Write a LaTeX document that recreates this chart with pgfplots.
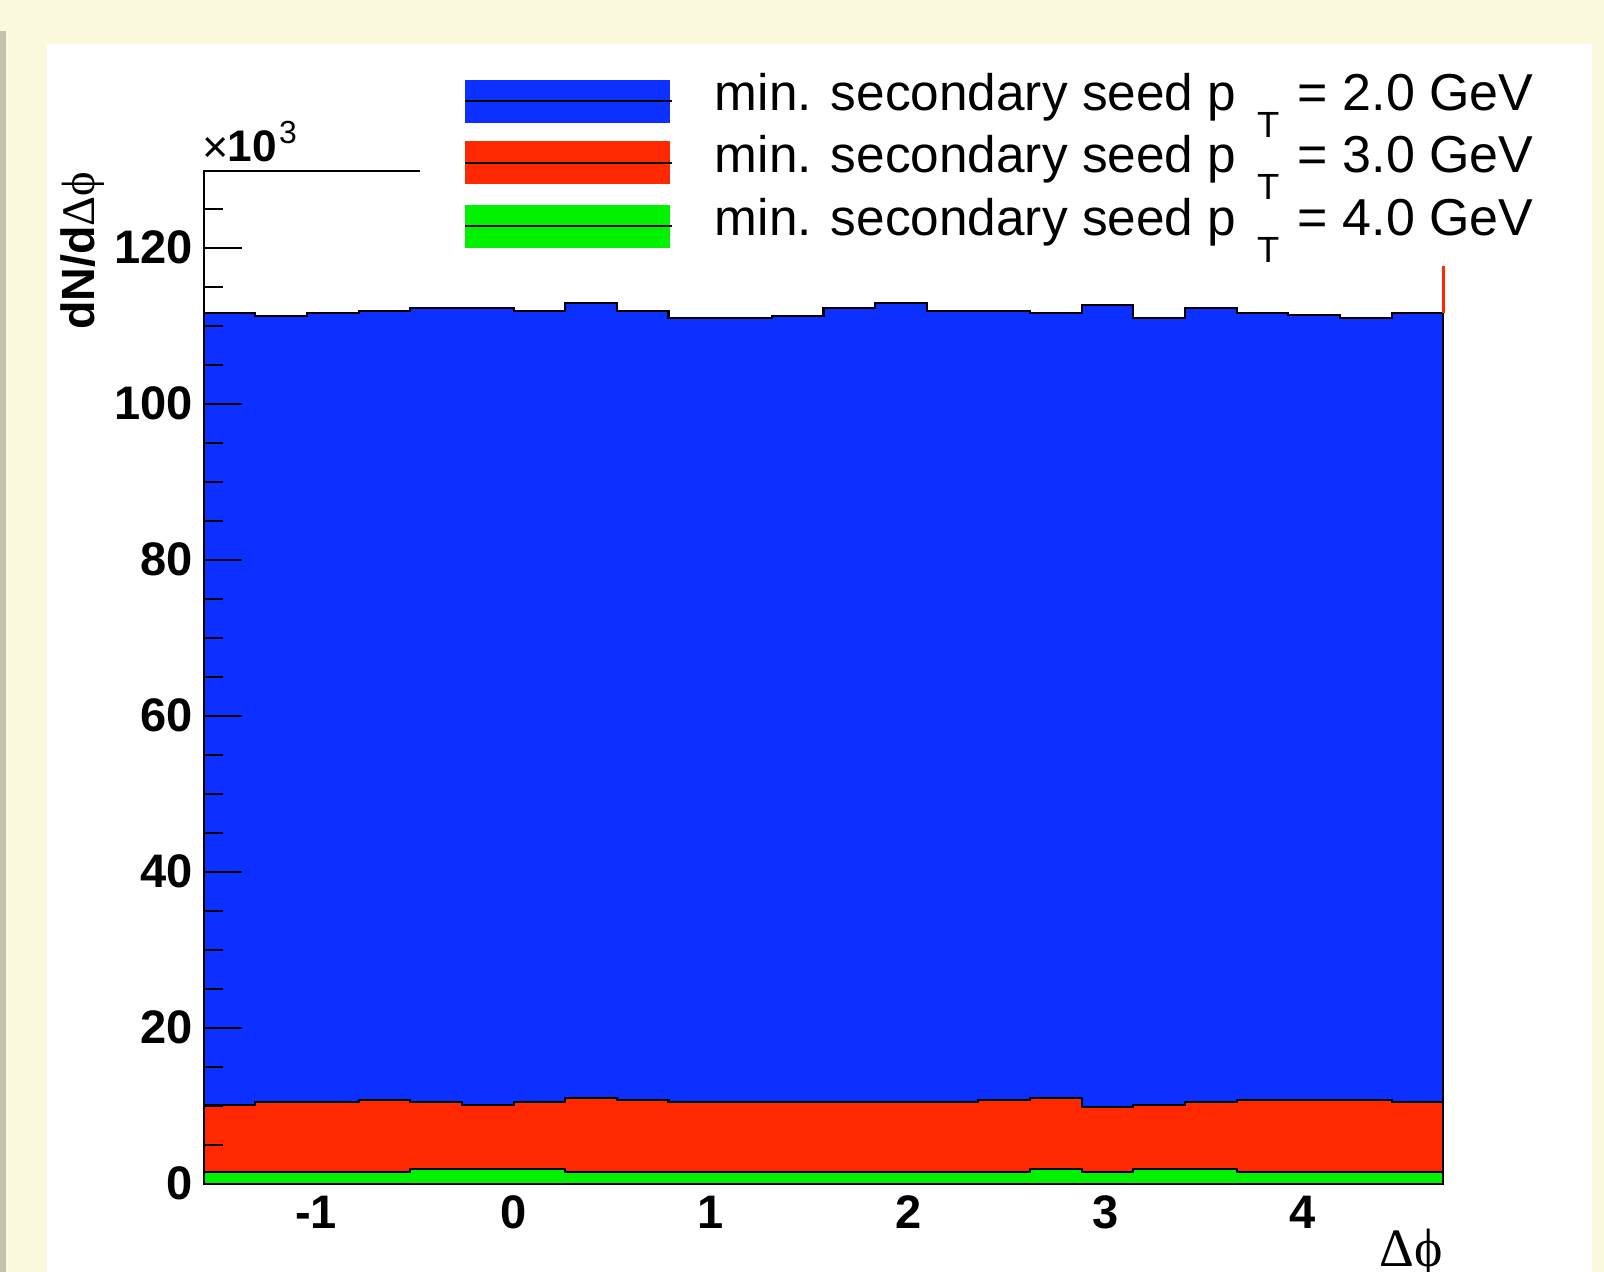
\documentclass[border=0pt]{standalone}
\usepackage{pgfplots}
\pgfplotsset{compat=1.18}
\usepackage{pgfplotstable}
\usepackage{fontspec}
\setmainfont{Liberation Sans}
\newfontfamily\symfont{Liberation Serif}

\definecolor{canvasbg}{RGB}{252,250,222}
\definecolor{framegray}{RGB}{196,194,170}
\definecolor{histblue}{RGB}{12,48,255}
\definecolor{histred}{RGB}{255,40,0}
\definecolor{histgreen}{RGB}{0,242,0}

% dN/dDeltaphi per bin (x = left bin edge), in units of 10^3;
% the last row repeats the final bin so that it is closed at 3pi/2
\pgfplotstableread{
x       pt2     pt3    pt4
-1.5708 111.67  10.13  1.50
-1.3090 111.25  10.42  1.50
-1.0472 111.67  10.42  1.50
-0.7854 111.88  10.75  1.50
-0.5236 112.25  10.42  1.85
-0.2618 112.25  10.13  1.85
 0.0000 111.92  10.42  1.85
 0.2618 112.88  10.96  1.50
 0.5236 111.92  10.67  1.50
 0.7854 110.96  10.42  1.50
 1.0472 110.96  10.42  1.50
 1.3090 111.29  10.42  1.50
 1.5708 112.25  10.42  1.50
 1.8326 112.88  10.42  1.50
 2.0944 111.92  10.42  1.50
 2.3562 111.92  10.67  1.50
 2.6180 111.67  10.96  1.85
 2.8798 112.58   9.83  1.50
 3.1416 110.96  10.04  1.85
 3.4034 112.25  10.42  1.85
 3.6652 111.67  10.67  1.50
 3.9270 111.42  10.67  1.50
 4.1888 111.00  10.67  1.50
 4.4506 111.67  10.42  1.50
 4.7124 111.67  10.42  1.50
}\histdata

\begin{document}
\begin{tikzpicture}[x=0.25pt,y=-0.25pt]
% canvas and pad
\fill[canvasbg] (0,0) rectangle (1568,1243);
\fill[framegray] (0,30) rectangle (6,1243);
\fill[white] (46,43) rectangle (1556,1243);
\useasboundingbox (0,0) rectangle (1568,1243);

\begin{axis}[
  at={(49.75pt,-289.25pt)}, anchor=south west,
  scale only axis, width=303pt, height=247.5pt,
  xmin=-1.5708, xmax=4.7124, ymin=0, ymax=129.84,
  axis line style={draw=none},
  axis on top,
  clip=false,
  xtick={-1,0,...,4},
  ytick={0,20,...,120},
  minor ytick={5,10,...,125},
  ytick pos=left,
  xtick pos=bottom,
  tick align=inside,
  major tick length=9.5pt, minor tick length=4.75pt,
  tick style={black, line width=0.5pt},
  xtick style={draw=none},
  /pgf/number format/assume math mode=true,
  tick label style={font=\bfseries\fontsize{11.5}{13}\selectfont, inner sep=0pt},
  xticklabel style={yshift=-2.75pt},
  yticklabel style={xshift=-2.5pt},
]
\addplot[const plot mark left, fill=histblue, draw=black, line width=0.5pt]
  table[x=x, y=pt2]{\histdata} \closedcycle;
\addplot[const plot mark left, fill=histred, draw=black, line width=0.5pt]
  table[x=x, y=pt3]{\histdata} \closedcycle;
\addplot[const plot mark left, fill=histgreen, draw=black, line width=0.5pt]
  table[x=x, y=pt4]{\histdata} \closedcycle;
% frame
\draw[black, line width=0.5pt] (axis cs:-1.5708,0) -- (axis cs:-1.5708,129.84) -- (axis cs:4.7124,129.84);
\draw[histred, line width=0.6pt] (axis cs:4.7124,111.67) -- (axis cs:4.7124,129.84);
\end{axis}

% legend
\fill[white] (411,43) rectangle (1556,260);
\foreach \c/\y in {histblue/78, histred/138, histgreen/200} {
  \fill[\c] (455,\y) rectangle (655,\y+42);
  \draw[black, line width=0.5pt] (455,\y+21) -- (657,\y+21);
}
\foreach \v/\b in {2.0/108, 3.0/169, 4.0/230} {
  \node[anchor=base west, inner sep=0pt, font=\fontsize{12.55}{14}\selectfont] at (698,\b) {min. secondary seed p};
  \node[anchor=north west, inner sep=0pt, font=\fontsize{8.9}{10}\selectfont] at (1228,\b+1) {T};
  \node[anchor=base west, inner sep=0pt, font=\fontsize{12.7}{14}\selectfont] at (1268,\b) {= \v\ GeV};
}

% axis titles and exponent
\node[anchor=base west, inner sep=0pt, font=\fontsize{11}{12}\selectfont] at (197,159) {×};
\node[anchor=base west, inner sep=0pt, font=\bfseries\fontsize{10.8}{12}\selectfont] at (222,158) {10};
\node[anchor=base west, inner sep=0pt, font=\fontsize{7.8}{9}\selectfont] at (272,140) {3};
\node[rotate=90, anchor=base east, inner sep=0pt, font=\fontsize{11.4}{13}\selectfont] at (92,167) {\textbf{dN/d}{\symfont Δϕ}};
\node[anchor=base east, inner sep=0pt, font=\fontsize{13.2}{15}\selectfont] at (1411,1238) {\symfont Δϕ};
\end{tikzpicture}
\end{document}
